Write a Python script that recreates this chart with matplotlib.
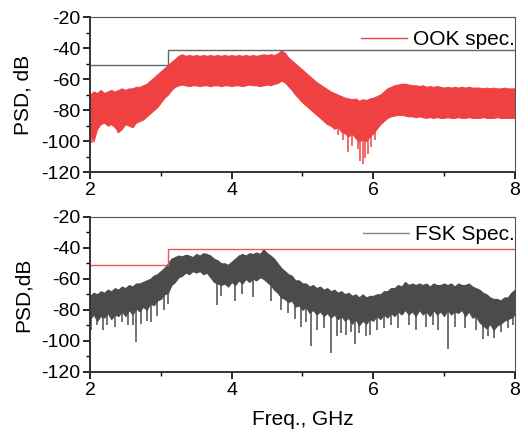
import numpy as np
import matplotlib
matplotlib.use('Agg')
import matplotlib.pyplot as plt

plt.rcParams['font.family'] = ['Liberation Sans', 'DejaVu Sans']
plt.rcParams['axes.unicode_minus'] = False

# frequency grid of the traced envelopes, GHz (2.00 ... 8.00, step 0.05)
freq = np.linspace(2, 8, 121)

# ---- OOK spectrum: upper / lower envelope (dB) ----
ook_hi = [-70, -68, -69, -67, -69, -68, -67, -68, -67, -66,
          -67, -66, -66, -65, -65, -64, -63, -61, -59, -57,
          -55, -53, -51, -49, -47, -45, -44, -45, -44.5, -45,
          -44.5, -45, -44.5, -45, -44.5, -45, -44.5, -45, -44.5, -45,
          -44.5, -45, -44.5, -45, -44.5, -45, -44.5, -45, -44.5, -44,
          -44.5, -44, -44.5, -43.5, -41.5, -43, -46, -48, -50, -52,
          -54, -56, -58, -60, -62, -63.5, -65, -66.5, -68, -69,
          -70, -71, -72, -72.5, -73, -72.5, -74, -73, -73.5, -72.5,
          -72, -71, -70, -68, -66, -65, -64, -63.5, -63, -63,
          -63.5, -64, -64, -64.5, -64, -65, -64.5, -65, -64.5, -65,
          -65.5, -65, -65.5, -65, -65.5, -65, -65.5, -65, -65.5, -65.5,
          -65.5, -66, -65.5, -66, -65.5, -66, -66, -65.5, -66, -66,
          -66]
ook_lo = [-95, -100, -92, -89, -88, -90, -89, -91, -94, -92,
          -89, -90, -91, -88, -87, -86, -84, -82, -80, -78,
          -75, -72, -70, -67, -65, -64, -63.5, -64, -64.5, -64,
          -64, -64.5, -64, -64, -64.5, -64, -64, -64.5, -64, -64,
          -64.5, -64, -64, -64.5, -64, -63.5, -64, -64, -64.5, -64,
          -63.5, -64, -63, -62.5, -61, -62, -64.5, -67, -70, -72.5,
          -75, -77, -79, -81, -83, -85, -87, -89, -90, -92,
          -91, -94, -95, -97, -95, -98, -100, -99, -100, -97,
          -95, -92, -89, -87, -85, -84, -83.5, -83, -83, -83.5,
          -84, -84, -84.5, -84, -84.5, -85, -84.5, -85, -84.5, -85,
          -85, -84.5, -85, -85, -84.5, -85, -85, -84.5, -85, -85,
          -85, -84.5, -85, -85, -85, -84.5, -85, -85, -85, -85,
          -85]
ook_spike_f = [2.03, 2.4, 5.5, 5.58, 5.65, 5.7, 5.78, 5.82, 5.85, 5.88,
               5.92, 5.97, 6.02]
ook_spike_v = [-101, -95, -96, -99, -107, -103, -105, -113, -115, -111,
               -108, -104, -99]

# ---- FSK spectrum ----
fsk_hi = [-71, -69, -70, -68, -69, -67, -68, -66, -67, -65,
          -66, -64, -65, -63, -63, -62, -61, -60, -58, -57,
          -55, -53, -50, -47, -46, -45, -45.5, -44.5, -45, -46,
          -44, -45, -43.5, -44, -45, -47, -48, -50, -50, -51,
          -49, -47, -45, -44, -45, -43.5, -44, -43, -44, -41,
          -43.5, -45, -47, -50, -53, -55, -57, -58, -61, -61,
          -63, -63, -65, -64, -66, -65, -67, -66, -68, -67,
          -69, -68, -70, -69, -71, -70, -72, -70, -72, -71,
          -71, -70, -70, -68, -68, -66, -66, -64, -65, -62,
          -64, -63, -64, -63, -64, -63, -65, -63, -64, -64,
          -63, -64, -63, -65, -63, -64, -64, -63, -65, -66,
          -67, -69, -70, -72, -73, -73, -74, -72, -72, -69,
          -67]
fsk_lo = [-86, -83, -87, -84, -85, -82, -86, -83, -84, -81,
          -84, -80, -83, -79, -81, -78, -80, -76, -77, -74,
          -73, -70, -69, -64, -62, -59, -58, -56, -57, -55,
          -56, -55, -57, -56, -59, -62, -63, -64, -63, -65,
          -62, -64, -61, -63, -60, -62, -60, -61, -59, -60,
          -62, -64, -67, -69, -72, -73, -75, -74, -78, -77,
          -80, -78, -82, -80, -83, -81, -84, -82, -85, -83,
          -86, -84, -87, -85, -89, -86, -90, -87, -89, -86,
          -87, -84, -86, -83, -85, -82, -84, -81, -83, -80,
          -83, -81, -84, -80, -83, -81, -84, -80, -83, -81,
          -84, -80, -83, -81, -82, -80, -84, -81, -85, -84,
          -88, -90, -92, -89, -93, -90, -89, -87, -86, -85,
          -83]
fsk_spike_f = [2.02, 2.1, 2.18, 2.24, 2.35, 2.45, 2.53, 2.6, 2.65, 2.72,
               2.8, 2.86, 2.95, 3.04, 3.1, 3.79, 3.85, 4.05, 4.15, 4.3,
               4.55, 4.7, 4.8, 4.9, 4.98, 5.05, 5.12, 5.2, 5.3, 5.41,
               5.49, 5.55, 5.62, 5.68, 5.74, 5.8, 5.9, 5.95, 6.05, 6.15,
               6.25, 6.35, 6.5, 6.6, 6.75, 6.85, 6.92, 7.05, 7.15, 7.3,
               7.45, 7.55, 7.62, 7.7, 7.8, 7.9, 7.97]
fsk_spike_v = [-93, -90, -93, -90, -91, -88, -90, -90, -101, -89,
               -87, -88, -84, -80, -76, -77, -71, -74, -70, -72,
               -74, -80, -82, -86, -91, -88, -103, -93, -92, -108,
               -97, -95, -96, -94, -102, -95, -97, -96, -93, -92,
               -90, -92, -90, -93, -91, -90, -93, -105, -91, -92,
               -93, -99, -97, -98, -94, -92, -90]

# spectral mask
mask_f = [2.0, 3.1, 3.1, 8.0]
mask_v = [-51, -51, -41, -41]

ook_c = '#ef4141'
fsk_c = '#4b4b4b'


def style(ax):
    ax.set_xlim(2, 8)
    ax.set_ylim(-120, -20)
    ax.set_xticks([2, 4, 6, 8])
    ax.set_xticks([3, 5, 7], minor=True)
    ax.set_yticks(np.arange(-120, -19, 20))
    ax.set_yticks(np.arange(-110, -20, 20), minor=True)
    ax.tick_params(direction='out', length=5, width=1.2, labelsize=14, pad=2)
    ax.tick_params(which='minor', direction='out', length=3, width=1)
    for s in ['left', 'bottom']:
        ax.spines[s].set_linewidth(1.4)
        ax.spines[s].set_color('#333333')
    for s in ['top', 'right']:
        ax.spines[s].set_linewidth(0.8)
        ax.spines[s].set_color('#555555')


def spectrum(ax, hi, lo, sf, sv, color):
    ax.fill_between(freq, lo, hi, color=color, lw=0.8, ec=color)
    base = np.interp(sf, freq, lo)
    ax.vlines(sf, sv, base + 2, color=color, lw=1.1)


fig = plt.figure(figsize=(5.28, 4.37), dpi=100)
ax1 = fig.add_axes([0.1705, 0.606, 0.8045, 0.355])
ax2 = fig.add_axes([0.1705, 0.149, 0.8045, 0.355])

spectrum(ax1, ook_hi, ook_lo, ook_spike_f, ook_spike_v, ook_c)
ax1.plot(mask_f, mask_v, color='#666666', lw=1)
ax1.plot([], [], color=ook_c, lw=1, label='OOK spec.')
ax1.set_ylabel('PSD, dB', fontsize=15)

spectrum(ax2, fsk_hi, fsk_lo, fsk_spike_f, fsk_spike_v, fsk_c)
ax2.plot(mask_f, mask_v, color='#ee5555', lw=1)
ax2.plot([], [], color='#888888', lw=1, label='FSK Spec.')
ax2.set_ylabel('PSD,dB', fontsize=15)
ax2.set_xlabel('Freq., GHz', fontsize=15, labelpad=8)

for ax, ytop in ((ax1, 0.968), (ax2, 1.0)):
    style(ax)
    ax.legend(loc='upper right', bbox_to_anchor=(1.02, ytop), frameon=False,
              fontsize=15, handlelength=2.2, borderaxespad=0,
              handletextpad=0.3)
    ax.yaxis.set_label_coords(-0.135, 0.5)

fig.savefig('out.png', dpi=100)
